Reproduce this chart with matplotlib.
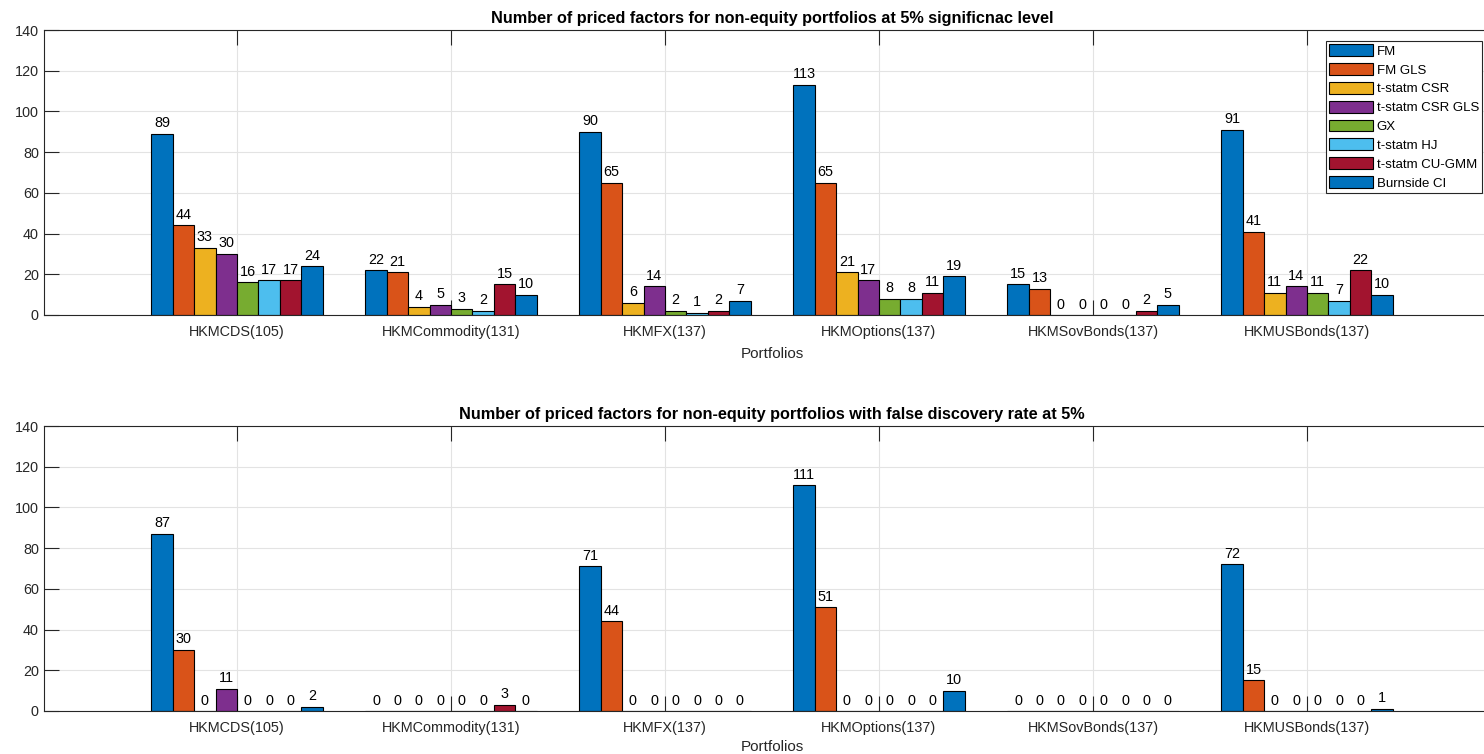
import matplotlib
matplotlib.use("Agg")
import matplotlib.pyplot as plt
import numpy as np

categories = ["HKMCDS(105)", "HKMCommodity(131)", "HKMFX(137)", "HKMOptions(137)",
              "HKMSovBonds(137)", "HKMUSBonds(137)"]
methods = ["FM", "FM GLS", "t-statm CSR", "t-statm CSR GLS", "GX", "t-statm HJ",
           "t-statm CU-GMM", "Burnside CI"]
colors = ["#0072BD", "#D95319", "#EDB120", "#7E2F8E", "#77AC30", "#4DBEEE",
          "#A2142F", "#0072BD"]

# rows: categories, columns: methods
top_values = [
    [89, 44, 33, 30, 16, 17, 17, 24],
    [22, 21, 4, 5, 3, 2, 15, 10],
    [90, 65, 6, 14, 2, 1, 2, 7],
    [113, 65, 21, 17, 8, 8, 11, 19],
    [15, 13, 0, 0, 0, 0, 2, 5],
    [91, 41, 11, 14, 11, 7, 22, 10],
]
bottom_values = [
    [87, 30, 0, 11, 0, 0, 0, 2],
    [0, 0, 0, 0, 0, 0, 3, 0],
    [71, 44, 0, 0, 0, 0, 0, 0],
    [111, 51, 0, 0, 0, 0, 0, 10],
    [0, 0, 0, 0, 0, 0, 0, 0],
    [72, 15, 0, 0, 0, 0, 0, 1],
]
titles = ["Number of priced factors for non-equity portfolios at 5% significnac level",
          "Number of priced factors for non-equity portfolios with false discovery rate at 5%"]
yticks = [0, 20, 40, 60, 80, 100, 120, 140]

plt.rcParams['font.family'] = ['Liberation Sans', 'DejaVu Sans']
FS = 10.4
axcol = "#262626"

W, H = 1484, 754
fig = plt.figure(figsize=(W / 100, H / 100), dpi=100)

left = 44.4 / W
width = (1499.6 - 44.4) / W
ax_top = fig.add_axes([left, (H - 315) / H, width, 285 / H])
ax_bot = fig.add_axes([left, (H - 711) / H, width, 285 / H])

x = np.arange(1, len(categories) + 1)
nb = len(methods)
bw = 0.1

for ax, vals, title, lpad in [(ax_top, top_values, titles[0], 6),
                              (ax_bot, bottom_values, titles[1], 3.5)]:
    data = np.array(vals)
    ax.set_axisbelow(True)
    for j in range(nb):
        pos = x + (j - (nb - 1) / 2) * bw
        ax.bar(pos, data[:, j], width=bw, color=colors[j], edgecolor="black",
               linewidth=0.8, label=methods[j], zorder=2)
        for p, v in zip(pos, data[:, j]):
            ax.annotate(f"{v}", xy=(p, v), xytext=(0, 2.5), textcoords="offset points",
                        ha="center", va="bottom", fontsize=FS, color="black", zorder=4)
    ax.set_xlim(0.1, 6.9)
    ax.set_ylim(0, 140)
    ax.set_yticks(yticks)
    ax.set_xticks(x)
    ax.set_xticklabels(categories)
    ax.grid(True, color="#e3e3e3", linewidth=0.8, zorder=0)
    ax.tick_params(axis="both", direction="in", length=10.5, width=0.8, colors=axcol,
                   labelsize=FS, top=True, right=True, labelcolor=axcol)
    ax.tick_params(axis="x", pad=7)
    ax.tick_params(axis="y", pad=4)
    for s in ax.spines.values():
        s.set_color(axcol)
        s.set_linewidth(0.8)
    ax.set_xlabel("Portfolios", fontsize=FS + 0.6, color=axcol, labelpad=lpad)
    ax.set_title(title, fontsize=11.7, fontweight="bold", color="black", pad=5)

leg = ax_top.legend(loc="upper left", bbox_to_anchor=(1326 / W, 1 - 41 / H),
                    bbox_transform=fig.transFigure, fontsize=9.5, frameon=True,
                    fancybox=False, framealpha=1, edgecolor=axcol, borderpad=0.25,
                    labelspacing=0.41, handlelength=3.3, handleheight=1.0,
                    handletextpad=0.3, borderaxespad=0)
leg.get_frame().set_linewidth(0.8)

fig.savefig("out.png", dpi=100)
